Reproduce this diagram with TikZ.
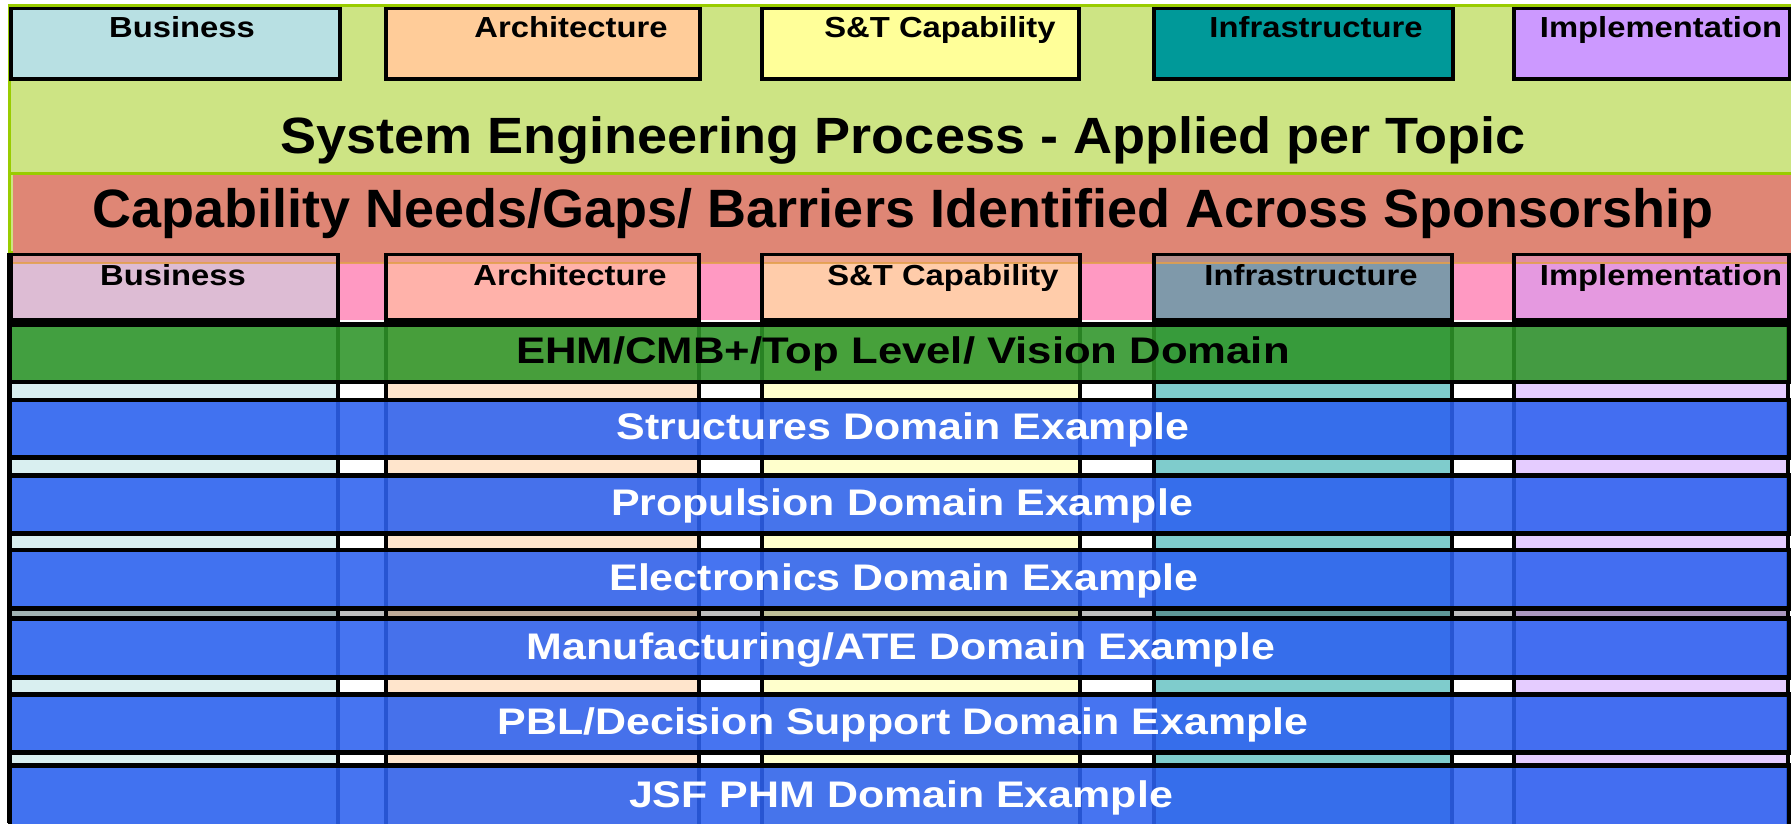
\documentclass[tikz,border=0pt]{standalone}
\usepackage{fontspec}
\setmainfont{Liberation Sans}
\usepackage{graphicx}
\newcommand{\stx}[2]{\scalebox{#1}[1]{#2}}
\definecolor{panelgreen}{HTML}{CDE484}
\definecolor{panelline}{HTML}{99CC00}
\definecolor{salmon}{HTML}{DF8675}
\definecolor{orangeline}{HTML}{E3A04C}
\definecolor{cBus}{HTML}{B8E0E3}
\definecolor{cArc}{HTML}{FFCC99}
\definecolor{cST}{HTML}{FFFF99}
\definecolor{cInf}{HTML}{009999}
\definecolor{cImp}{HTML}{CC99FF}
\definecolor{hBus}{HTML}{DDBCD4}
\definecolor{hArc}{HTML}{FFB2AA}
\definecolor{hST}{HTML}{FFCCAA}
\definecolor{hInf}{HTML}{7F99AA}
\definecolor{hImp}{HTML}{E599E0}
\definecolor{hGap}{HTML}{FF99C2}
\definecolor{sBus}{HTML}{D9EFF0}
\definecolor{sArc}{HTML}{FFE5CC}
\definecolor{sST}{HTML}{FFFFCC}
\definecolor{sInf}{HTML}{7FCCCC}
\definecolor{sImp}{HTML}{E5CCFF}
\definecolor{ehm}{HTML}{2E9528}
\definecolor{bandblue}{HTML}{2D61F0}
\tikzset{
  boxline/.style={draw=black, line width=3.5},
  colline/.style={draw=black, line width=4.5},
  lbl/.style={font=\fontsize{29}{32}\selectfont\bfseries, anchor=base, inner sep=0},
  titletxt/.style={font=\fontsize{54}{60}\selectfont\bfseries, anchor=base, inner sep=0},
  bandrect/.style={draw=black, line width=4.5, fill opacity=0.88},
  bandtxt/.style={font=\fontsize{37}{40}\selectfont\bfseries, anchor=base, inner sep=0, text=white, text opacity=1},
}
\begin{document}
\begin{tikzpicture}[x=1pt,y=-1pt]
\useasboundingbox (0,0) rectangle (1791,823);
\fill[white] (0,0) rectangle (1791,823);

% ---------- top panel ----------
\draw[panelline, line width=3, fill=panelgreen] (9,5) rectangle (1800,252);
\draw[boxline, fill=cBus] (11,8.5) rectangle (340,79);
\draw[boxline, fill=cArc] (386,8.5) rectangle (700,79);
\draw[boxline, fill=cST]  (762,8.5) rectangle (1079,79);
\draw[boxline, fill=cInf] (1154,8.5) rectangle (1453,79);
\draw[boxline, fill=cImp] (1514,8.5) rectangle (1790,79);
\node[lbl] (tBus) at (182,37) {\stx{1.13}{Business}};
\node[lbl] (tArc) at (571,37) {\stx{1.13}{Architecture}};
\node[lbl] (tST)  at (940,37) {\stx{1.13}{S\&T Capability}};
\node[lbl] (tInf) at (1316,37) {\stx{1.13}{Infrastructure}};
\node[lbl] (tImp) at (1661,37) {\stx{1.13}{Implementation}};
\node[titletxt] (seTitle) at (903,153) {\stx{1.06}{\fontsize{51}{56}\selectfont System Engineering Process - Applied per Topic}};

% ---------- lower columns ----------
\fill[sBus] (11,320) rectangle (338,830);
\fill[sArc] (386,320) rectangle (699,830);
\fill[sST]  (762,320) rectangle (1080,830);
\fill[sInf] (1154,320) rectangle (1452,830);
\fill[sImp] (1514,320) rectangle (1788,830);
\foreach \xx in {338,386,699,762,1080,1154,1452,1514,1788}
  \draw[colline] (\xx,320) -- (\xx,830);

% ---------- header row ----------
\fill[hGap] (11,262) rectangle (1791,320);
\fill[salmon] (13,174.5) rectangle (1800,263);
\fill[hBus] (11,254.5) rectangle (338,320);
\fill[hArc] (386,254.5) rectangle (699,320);
\fill[hST]  (762,254.5) rectangle (1080,320);
\fill[hInf] (1154,254.5) rectangle (1452,320);
\fill[hImp] (1514,254.5) rectangle (1789,320);
\fill[salmon, opacity=0.55] (11,253) rectangle (1791,263);
\draw[orangeline, line width=2.5, opacity=0.85] (11,263) -- (1791,263);
\draw[boxline] (11,254.5) rectangle (338,320);
\draw[boxline] (386,254.5) rectangle (699,320);
\draw[boxline] (762,254.5) rectangle (1080,320);
\draw[boxline] (1154,254.5) rectangle (1452,320);
\draw[boxline] (1514,254.5) rectangle (1789,320);
\draw[panelline, line width=3] (9,173) -- (1800,173);
\node[titletxt] (capTitle) at (903,227) {Capability Needs/Gaps/ Barriers Identified Across Sponsorship};
\node[lbl] (hBusL) at (173,285) {\stx{1.13}{Business}};
\node[lbl] (hArcL) at (570,285) {\stx{1.13}{Architecture}};
\node[lbl] (hSTL)  at (943,285) {\stx{1.13}{S\&T Capability}};
\node[lbl] (hInfL) at (1311,285) {\stx{1.13}{Infrastructure}};
\node[lbl] (hImpL) at (1661,285) {\stx{1.13}{Implementation}};

% ---------- domain bands ----------
\draw[bandrect, fill=ehm] (10,324.5) rectangle (1789,382);
\draw[bandrect, fill=bandblue] (10,400) rectangle (1789,457.5);
\draw[bandrect, fill=bandblue] (10,475.5) rectangle (1789,533.5);
\draw[bandrect, fill=bandblue] (10,550) rectangle (1789,608.5);
\draw[bandrect, fill=bandblue] (10,618.5) rectangle (1789,677.5);
\draw[bandrect, fill=bandblue] (10,694.5) rectangle (1789,752.5);
\draw[bandrect, fill=bandblue] (10,765.5) rectangle (1789,835);
\fill[black, opacity=0.25] (11,610.5) rectangle (1789,616.5);
\draw[line width=5] (9,253) -- (9,823);

\node[bandtxt, text=black] (ehmT) at (903,363) {\stx{1.18}{EHM/CMB+/Top Level/ Vision Domain}};
\node[bandtxt] (strT) at (903,439) {\stx{1.16}{Structures Domain Example}};
\node[bandtxt] (proT) at (902,515) {\stx{1.16}{Propulsion Domain Example}};
\node[bandtxt] (eleT) at (904,590) {\stx{1.16}{Electronics Domain Example}};
\node[bandtxt] (manT) at (901,659) {\stx{1.16}{Manufacturing/ATE Domain Example}};
\node[bandtxt] (pblT) at (903,734) {\stx{1.16}{PBL/Decision Support Domain Example}};
\node[bandtxt] (jsfT) at (901,807) {\stx{1.16}{JSF PHM Domain Example}};
\end{tikzpicture}
\end{document}
